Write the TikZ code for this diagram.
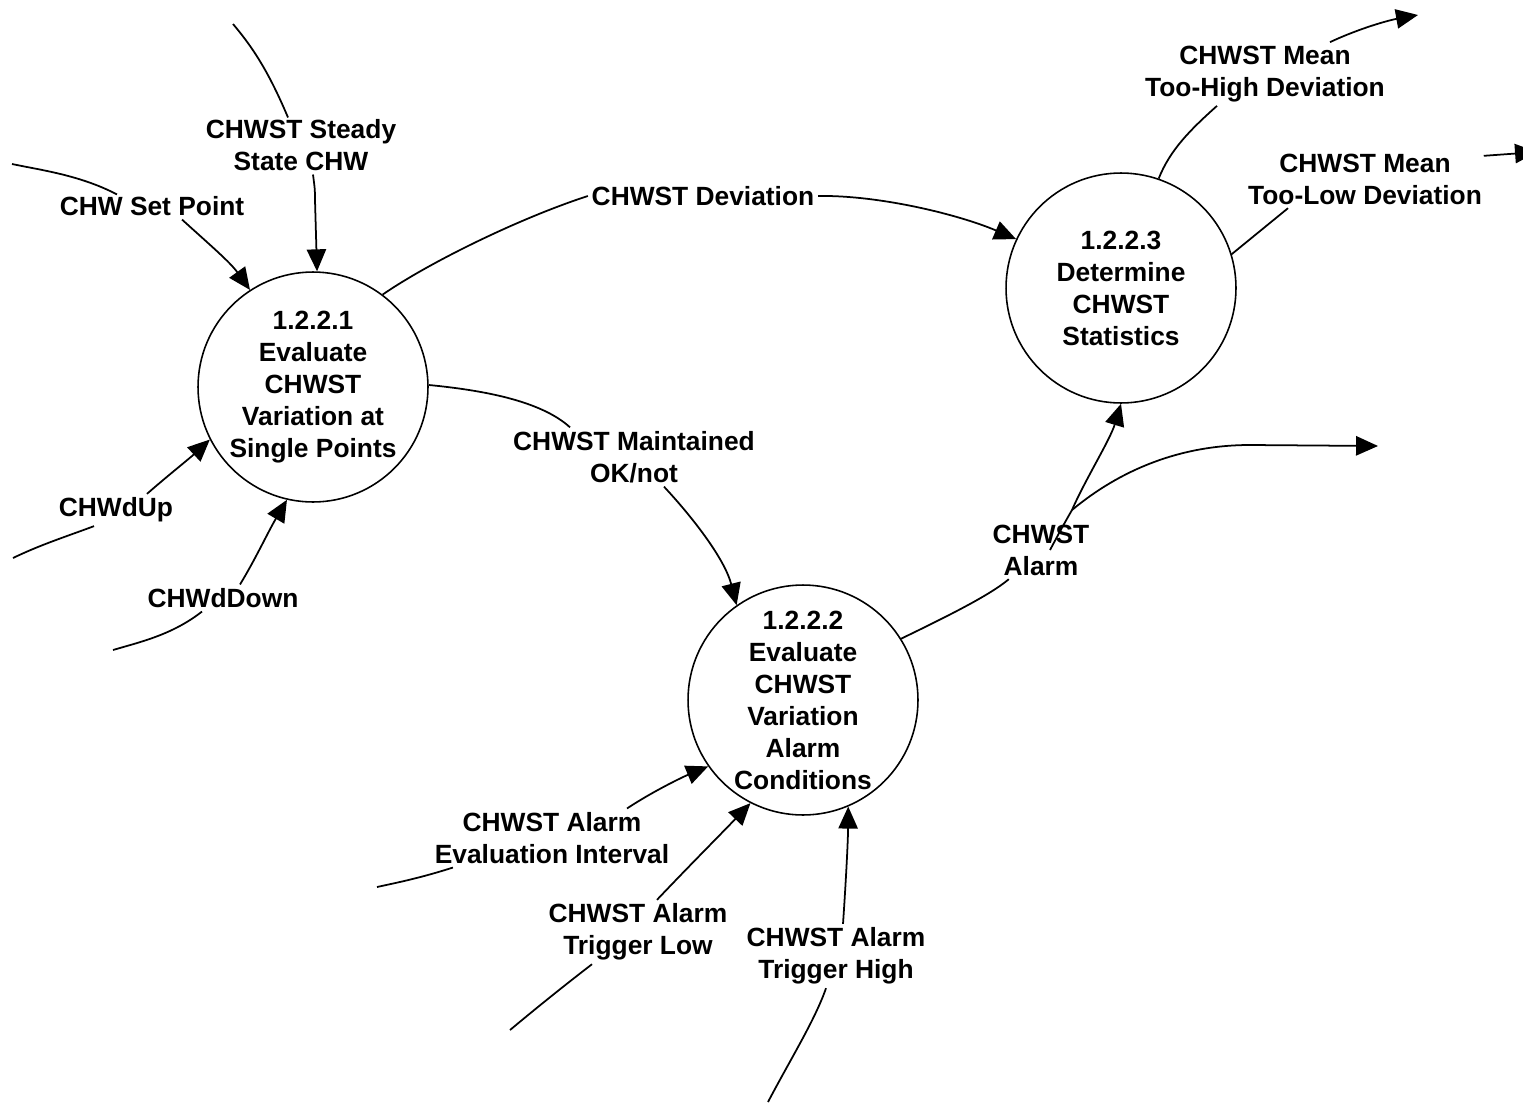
\documentclass[tikz,border=0pt]{standalone}
\usepackage{fontspec}
\setmainfont{Liberation Sans}
\usetikzlibrary{arrows.meta,calc}
\begin{document}
\begin{tikzpicture}[x=0.02cm,y=-0.02cm,
  every node/.style={font=\bfseries\fontsize{15}{18.2}\selectfont},
  proc/.style={circle,draw,line width=0.9pt,minimum size=4.6cm,inner sep=0pt,align=center},
  lbl/.style={align=center,inner sep=2pt},
  flow/.style={line width=1pt},
  arr/.style={flow,-{Triangle[length=12.5pt,width=11pt]}}]
\useasboundingbox (0,0) rectangle (1523,1105);

% processes
\node[proc] (p1) at (313,387) {1.2.2.1\\Evaluate\\CHWST\\Variation at\\Single Points};
\node[proc] (p2) at (803,700) {1.2.2.2\\Evaluate\\CHWST\\Variation\\Alarm\\Conditions};
\node[proc] (p3) at (1121,288) {1.2.2.3\\Determine\\CHWST\\Statistics};

% labels
\node[lbl] (ss) at (301,145) {CHWST Steady\\State CHW};
\node[lbl] (sp) at (152,206) {CHW Set Point};
\node[lbl] (up) at (116,510) {CHWdUp};
\node[lbl] (dn) at (223,598) {CHWdDown};
\node[lbl] (dev) at (703,196) {CHWST Deviation};
\node[lbl] (mt) at (634,457) {CHWST Maintained\\OK/not};
\node[lbl] (ei) at (552,838) {CHWST Alarm\\Evaluation Interval};
\node[lbl] (tl) at (638,932) {CHWST Alarm\\Trigger Low};
\node[lbl] (th) at (836,956) {CHWST Alarm\\Trigger High};
\node[lbl] (al) at (1041,550) {CHWST\\Alarm};
\node[lbl] (hi) at (1265,74) {CHWST Mean\\Too-High Deviation};
\node[lbl] (lo) at (1365,179) {CHWST Mean\\Too-Low Deviation};

% free ends
\coordinate (s1) at (233,24);
\coordinate (s2) at (12,164);
\coordinate (s3) at (13,558);
\coordinate (s4) at (113,650);
\coordinate (s5) at (377,887);
\coordinate (s6) at (510,1030);
\coordinate (s7) at (768,1102);
\coordinate (t1) at (1418,15);
\coordinate (t2) at (1537,152);
\coordinate (t3) at (1378,446);
\coordinate (br) at (1072,510);

% inputs to 1.2.2.1
\draw[flow] (s1) .. controls (255,50) and (270,75) .. ($(ss.north)+(-13,2)$);
\draw[arr] ($(ss.south)+(12,0)$) .. controls (315,190) .. (315,200) -- (p1.88);
\draw[flow] (s2) .. controls (40,170) and (80,175) .. ($(sp.north)+(-35,2)$);
\draw[arr] ($(sp.south)+(30,0)$) .. controls (210,245) and (230,262) .. (p1.123);
\draw[flow] (s3) .. controls (40,545) and (62,538) .. ($(up.south)+(-22,0)$);
\draw[arr] ($(up.north)+(31,0)$) .. controls (165,478) and (190,458) .. (p1.207);
\draw[flow] (s4) .. controls (140,642) and (172,635) .. ($(dn.south)+(-21,0)$);
\draw[arr] ($(dn.north)+(17,0)$) .. controls (255,560) and (268,532) .. (p1.257);

% 1.2.2.1 outputs
\draw[flow] (p1.53) .. controls (430,262) and (520,218) .. (dev.west);
\draw[arr] (dev.east) .. controls (880,195) and (960,215) .. (p3.155);
\draw[flow] (p1.1) .. controls (480,390) and (540,400) .. ($(mt.north)+(-64,0)$);
\draw[arr] ($(mt.south)+(30,0)$) .. controls (695,520) and (725,560) .. (p2.125);

% inputs to 1.2.2.2
\draw[flow] (s5) .. controls (400,882) and (420,878) .. ($(ei.south west)+(22,0)$);
\draw[arr] ($(ei.north)+(75,0)$) .. controls (655,790) and (685,776) .. (p2.215);
\draw[flow] (s6) .. controls (540,1005) and (565,985) .. ($(tl.south)+(-46,0)$);
\draw[arr] ($(tl.north)+(19,0)$) .. controls (690,865) and (720,835) .. (p2.243);
\draw[flow] (s7) .. controls (790,1060) and (815,1020) .. ($(th.south)+(-10,0)$);
\draw[arr] ($(th.north)+(7,0)$) .. controls (846,880) and (848,840) .. (p2.293);

% alarm
\draw[flow] (p2.32.5) .. controls (950,615) and (990,595) .. ($(al.south west)+(20,0)$);
\draw[arr] ($(al.center)+(9,0)$) .. controls (1058,535) and (1065,522) .. (br)
  .. controls (1085,480) and (1110,440) .. (p3.270);
\draw[arr] (br) .. controls (1120,470) and (1180,445) .. (1250,445) -- (t3);

% outputs of 1.2.2.3
\draw[flow] (p3.71) .. controls (1170,150) and (1190,130) .. ($(hi.south)+(-48,0)$);
\draw[arr] ($(hi.north)+(65,0)$) .. controls (1360,28) and (1390,20) .. (t1);
\draw[flow] (p3.17.5) -- ($(lo.south)+(-77,0)$);
\draw[arr] ($(lo.north east)+(-2,6)$) -- (t2);
\end{tikzpicture}
\end{document}
